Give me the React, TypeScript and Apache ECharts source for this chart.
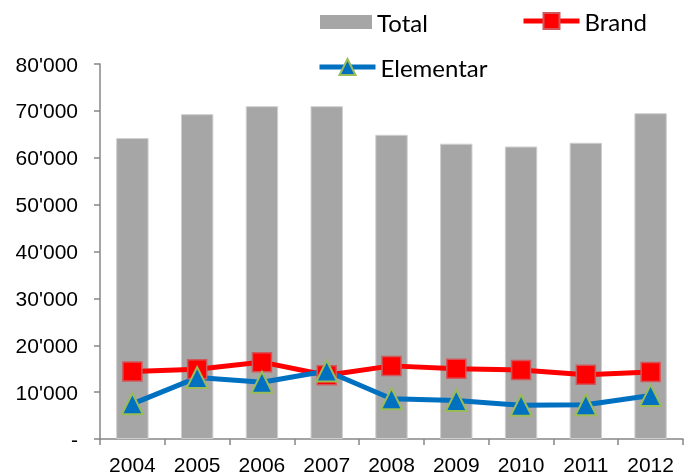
import React, { useEffect, useRef } from "react";
import * as echarts from "echarts";

const years = ["2004", "2005", "2006", "2007", "2008", "2009", "2010", "2011", "2012"];
const total = [64200, 69300, 71000, 71000, 64900, 63000, 62400, 63200, 69500];
const brand = [14400, 14900, 16400, 13600, 15600, 15000, 14700, 13700, 14300];
const elementar = [7500, 13100, 12100, 14500, 8600, 8200, 7200, 7300, 9300];

function fmt(v: number): string {
  if (v === 0) return "-";
  const s = String(Math.round(v));
  return s.replace(/\B(?=(\d{3})+(?!\d))/g, "'");
}

export default function App() {
  const ref = useRef<HTMLDivElement>(null);
  useEffect(() => {
    if (!ref.current) return;
    const chart = echarts.init(ref.current, null, { renderer: "svg" });
    const legendText = { fontSize: 24, color: "#000", fontFamily: "Lato" };
    const axisFont = "Liberation Sans";
    chart.setOption({
      animation: false,
      legend: [
        {
          data: [{ name: "Total", icon: "rect" }],
          left: 315,
          top: 5,
          itemWidth: 52,
          itemHeight: 14,
          itemStyle: { borderWidth: 0 },
          textStyle: legendText,
        },
        {
          data: ["Brand"],
          left: 516,
          top: 4,
          itemWidth: 56,
          itemHeight: 20,
          lineStyle: { width: 5 },
          textStyle: legendText,
        },
        {
          data: ["Elementar"],
          left: 312,
          top: 50,
          itemWidth: 56,
          itemHeight: 20,
          lineStyle: { width: 5 },
          textStyle: legendText,
        },
      ],
      grid: { left: 100, right: 2, top: 64, bottom: 36, containLabel: false },
      xAxis: {
        type: "category",
        data: years,
        boundaryGap: true,
        axisLine: { lineStyle: { color: "#868686", width: 1.5 } },
        axisTick: { show: true, length: 6, lineStyle: { color: "#868686", width: 1.5 } },
        axisLabel: { color: "#000", fontSize: 21, margin: 15, fontFamily: axisFont },
      },
      yAxis: {
        type: "value",
        min: 0,
        max: 80000,
        interval: 10000,
        splitLine: { show: false },
        axisLine: { show: true, lineStyle: { color: "#868686", width: 1.5 } },
        axisTick: { show: true, length: 6, lineStyle: { color: "#868686", width: 1.5 } },
        axisLabel: {
          color: "#000",
          fontSize: 21,
          margin: 22,
          fontFamily: axisFont,
          formatter: (v: number) => fmt(v),
        },
      },
      series: [
        {
          name: "Total",
          type: "bar",
          data: total,
          barWidth: "50%",
          itemStyle: { color: "#a6a6a6", borderColor: "#cfcfcf", borderWidth: 1 },
        },
        {
          name: "Brand",
          type: "line",
          data: brand,
          symbol: "rect",
          symbolSize: 19,
          lineStyle: { color: "#ff0000", width: 5 },
          itemStyle: { color: "#ff0000", borderColor: "#d0585a", borderWidth: 1.5 },
        },
        {
          name: "Elementar",
          type: "line",
          data: elementar,
          symbol: "triangle",
          symbolSize: 21,
          lineStyle: { color: "#0070c0", width: 5 },
          itemStyle: { color: "#0070c0", borderColor: "#9bbb59", borderWidth: 2 },
        },
      ],
    });
    return () => chart.dispose();
  }, []);
  return <div ref={ref} style={{ position: "fixed", left: 0, top: 0, width: 685, height: 475 }} />;
}
